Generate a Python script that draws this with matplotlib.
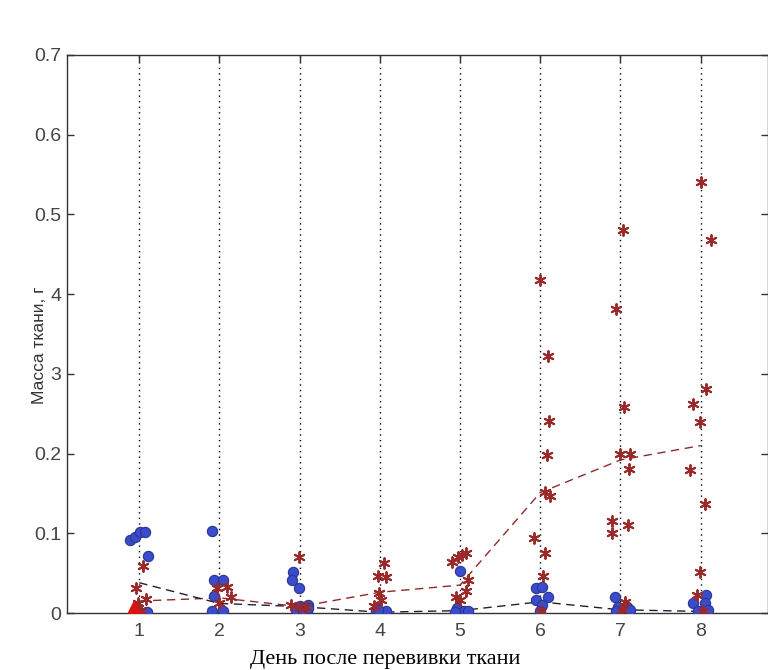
import matplotlib.pyplot as plt

# Days and the tick labels as they appear on the original figure
days = [1, 2, 3, 4, 5, 6, 7, 8]
y_ticks = [0, 0.1, 0.2, 0.3, 0.4, 0.5, 0.6, 0.7]
y_tick_labels = ["0", "0.1", "0.2", "3", "4", "0.5", "0.6", "0.7"]

# Blue group (circles): jittered day position and tissue mass
blue_x = [0.88, 0.95, 1.01, 1.07, 1.11, 1.10,
          1.91, 1.93, 2.05, 1.93, 1.91, 2.05,
          2.92, 2.90, 2.99, 3.01, 3.11, 3.09,
          2.96, 3.04, 3.10,
          3.95, 4.02, 4.08, 3.98,
          5.00, 4.96, 5.05, 5.10, 4.94,
          5.95, 6.02, 6.10, 5.95, 6.02, 6.00,
          6.93, 6.97, 7.08, 7.12, 6.94,
          7.90, 8.07, 8.05, 8.09, 7.97]
blue_y = [0.091, 0.095, 0.101, 0.102, 0.071, 0.001,
          0.103, 0.041, 0.041, 0.021, 0.002, 0.002,
          0.051, 0.041, 0.031, 0.009, 0.010, 0.001,
          0.004, 0.002, 0.006,
          0.003, 0.001, 0.002, 0.004,
          0.053, 0.006, 0.003, 0.002, 0.001,
          0.031, 0.033, 0.020, 0.016, 0.010, 0.002,
          0.020, 0.008, 0.008, 0.004, 0.003,
          0.012, 0.023, 0.012, 0.004, 0.002]

# Red group (asterisks)
red_x = [1.05, 0.96, 1.09, 0.99, 1.02,
         1.97, 2.09, 2.14, 1.99,
         2.99, 2.89, 3.01, 3.08,
         4.05, 3.98, 4.08, 3.99, 4.02, 3.93,
         4.90, 4.97, 5.03, 5.08, 5.10, 5.07, 4.95, 5.00,
         6.00, 6.10, 6.11, 6.08, 6.06, 6.12, 5.92, 6.06, 6.04, 6.01,
         7.03, 6.95, 7.04, 6.99, 7.12, 7.11, 6.89, 6.89, 7.10, 7.06, 7.02,
         8.01, 8.13, 8.07, 7.90, 7.99, 7.87, 8.05, 7.99, 7.95, 8.03]
red_y = [0.059, 0.031, 0.018, 0.012, 0.004,
         0.031, 0.033, 0.020, 0.013,
         0.070, 0.010, 0.007, 0.008,
         0.063, 0.046, 0.045, 0.025, 0.016, 0.009,
         0.064, 0.070, 0.073, 0.075, 0.041, 0.027, 0.020, 0.016,
         0.418, 0.322, 0.241, 0.198, 0.152, 0.147, 0.094, 0.075, 0.047, 0.002,
         0.481, 0.381, 0.259, 0.200, 0.200, 0.181, 0.115, 0.100, 0.110, 0.014, 0.004,
         0.541, 0.468, 0.281, 0.262, 0.240, 0.180, 0.137, 0.051, 0.023, 0.003]

# Single triangle marker at day 1
tri_x = [0.93]
tri_y = [0.007]

# Group means (dashed lines)
blue_mean = [0.038, 0.012, 0.008, 0.001, 0.003, 0.014, 0.004, 0.002]
red_mean = [0.015, 0.019, 0.008, 0.026, 0.035, 0.151, 0.192, 0.210]

plt.rcParams['font.family'] = ['Liberation Sans', 'DejaVu Sans']

fig = plt.figure(figsize=(7.68, 6.7), dpi=100)
ax = fig.add_axes([67 / 768, 57 / 670, 701 / 768, 558 / 670])

for d in days:
    ax.axvline(d, color="black", linestyle=(0, (1, 3)), linewidth=1.0, zorder=1)

ax.plot(days, red_mean, linestyle=(0, (6, 4)), color="#8e2a2a", linewidth=1.0, zorder=2)
ax.plot(days, blue_mean, linestyle=(0, (6, 4)), color="#1e1e3a", linewidth=1.0, zorder=2)

ax.scatter(blue_x, blue_y, s=55, color="#3a4ccc", edgecolors="#2a3590",
           linewidths=0.8, zorder=3)
ax.scatter(red_x, red_y, s=60, marker=(6, 2, 0), color="#9a2a2a",
           linewidths=1.4, zorder=4)
ax.scatter(tri_x, tri_y, s=90, marker="^", color="#dd1111", zorder=4)

ax.set_xlim(0.1, 8.84)
ax.set_ylim(0, 0.7)
ax.set_xticks(days)
ax.set_yticks(y_ticks)
ax.set_yticklabels(y_tick_labels)
ax.tick_params(direction="in", length=5, width=1, top=True, right=True,
               labelsize=14, labelcolor="#444444", colors="#333333")
ax.tick_params(axis="y", pad=4)
ax.tick_params(axis="x", pad=7)
for sp in ax.spines.values():
    sp.set_linewidth(1.0)
    sp.set_color("#333333")

ax.set_ylabel("Масса ткани, г", fontsize=12.5, color="#333333")
ax.yaxis.set_label_coords(-0.028, 0.48)
ax.set_xlabel("День после перевивки ткани", fontsize=16,
              family=["Liberation Serif", "DejaVu Serif"])
ax.xaxis.set_label_coords(0.454, -0.066)

fig.savefig("out.png", dpi=100)
